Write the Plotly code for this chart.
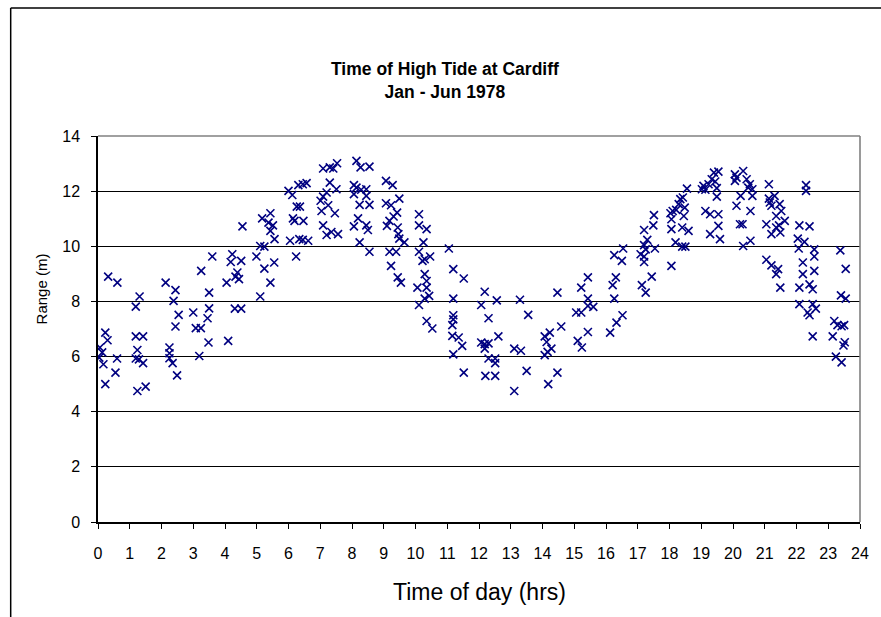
import plotly.graph_objects as go

# Time of high tide (hours of day) and tidal range (m), Cardiff, Jan - Jun 1978
hours = [
    0.32, 0.61, 0.23, 0.30, 0.06, 0.13, 0.17, 0.04, 0.60, 0.55, 0.23, 1.19, 1.31, 1.19, 1.42, 1.24,
    1.19, 1.29, 1.42, 1.24, 1.50, 2.13, 2.44, 2.38, 2.54, 2.44, 2.25, 2.25, 2.25, 2.35, 2.49, 3.00,
    3.08, 3.24, 3.25, 3.60, 3.50, 3.50, 3.45, 3.48, 3.19,
    4.23, 4.18, 4.51, 4.39, 4.33, 4.44, 4.05, 4.31, 4.51, 4.10, 4.55, 5.11, 4.99, 5.11, 5.24, 5.24,
    5.55, 5.43, 5.17, 5.43, 5.37, 5.51, 5.43, 5.56, 6.24, 6.05, 6.34, 6.45, 6.62, 6.14, 6.19, 6.47,
    6.26, 6.36, 6.00, 6.12, 6.31, 6.45, 6.57, 7.09, 7.30, 7.41, 7.53, 7.30, 7.20, 7.09, 7.01, 7.51,
    7.25, 7.04, 7.46, 7.09, 7.20, 7.35, 7.56,
    8.14, 8.27, 8.55, 8.06, 8.14, 8.29, 8.45, 8.06, 8.45, 8.24, 8.55, 8.19, 8.06, 8.45, 8.50, 8.24,
    8.55, 9.07, 9.28, 9.49, 9.07, 9.23, 9.42, 9.31, 9.18, 9.10, 9.44, 9.46, 9.49, 9.65, 9.18, 9.39,
    9.23, 9.44, 9.54, 10.11, 10.11, 10.35, 10.25, 10.11, 10.22, 10.29, 10.46, 10.29, 10.35, 10.35,
    10.06, 10.43, 10.29, 10.11, 10.35, 10.53, 11.05, 11.19, 11.52, 11.19, 11.19, 11.19, 11.16, 11.16,
    11.36, 11.47, 11.19, 11.52,
    12.18, 12.07, 12.56, 12.30, 12.07, 12.18, 12.30, 12.18, 12.61, 12.30, 12.51, 12.51, 12.20, 12.51,
    13.11, 13.29, 13.55, 13.11, 13.32, 13.50, 14.47, 14.59, 14.23, 14.07, 14.13, 14.28, 14.07, 14.16,
    14.47, 14.18, 15.22, 15.43, 15.06, 15.22, 15.43, 15.43, 15.11, 15.24, 15.43,
    15.60, 16.26, 16.54, 16.50, 16.31, 16.21, 16.26, 16.52, 16.33, 16.13, 17.20, 17.51, 17.49, 17.30,
    17.20, 17.09, 17.20, 17.20, 17.54, 17.25, 17.44, 17.13, 17.25, 18.06, 18.19, 18.40, 18.50, 18.40,
    18.60, 18.06, 18.06, 18.03, 18.10, 18.21, 18.45, 18.48, 18.29, 18.34, 18.42, 18.55, 19.07, 19.02,
    19.13, 19.23, 19.33, 19.40, 19.13, 19.28, 19.28,
    19.54, 19.44, 19.49, 19.49, 19.54, 19.54, 19.59, 20.06, 20.11, 20.32, 20.06, 20.43, 20.53, 20.48,
    20.61, 20.24, 20.61, 20.11, 20.55, 20.22, 20.30, 20.32, 20.55, 21.13, 21.13, 21.31, 21.16, 21.21,
    21.47, 21.36, 21.52, 21.63, 21.05, 21.45, 21.49, 21.21, 21.36, 21.05, 21.21, 21.42, 21.36, 21.49,
    22.30, 22.30, 22.09, 22.41, 22.04, 22.25, 22.07, 22.56, 22.56, 22.20, 22.20, 22.56, 22.09, 22.41,
    22.51, 22.09, 22.51, 22.61, 22.35, 22.41, 22.51, 23.14, 23.19,
    23.38, 23.55, 23.40, 23.55, 23.29, 23.42, 23.50, 23.52, 23.48, 23.24, 23.42,
]
range_m = [
    8.90, 8.68, 6.87, 6.59, 6.33, 6.15, 5.72, 5.96, 5.93, 5.42, 5.00, 7.81, 8.18, 6.73, 6.73, 6.24,
    5.93, 5.90, 5.76, 4.75, 4.91, 8.68, 8.41, 8.02, 7.51, 7.09, 6.33, 6.12, 5.94, 5.76, 5.32, 7.60,
    7.03, 7.03, 9.11, 9.63, 8.32, 7.75, 7.39, 6.51, 6.02,
    9.71, 9.43, 9.47, 9.05, 8.90, 8.81, 8.68, 7.74, 7.74, 6.57, 10.72, 8.18, 9.63, 10.01, 9.99, 9.19,
    9.41, 8.68, 11.01, 11.20, 10.86, 10.76, 10.56, 10.26, 9.63, 10.20, 10.26, 10.23, 10.20, 11.01, 10.92, 10.92,
    11.44, 11.44, 12.01, 11.86, 12.22, 12.25, 12.29, 12.82, 12.86, 12.82, 13.01, 12.31, 11.95, 11.80, 11.65, 12.07,
    11.49, 11.28, 11.20, 10.76, 10.41, 10.52, 10.44,
    13.10, 12.86, 12.89, 12.22, 12.13, 12.05, 12.07, 11.89, 11.83, 11.50, 11.50, 11.01, 10.72, 10.76, 10.59, 10.14,
    9.80, 12.37, 12.22, 11.73, 11.56, 11.49, 11.22, 11.08, 10.92, 10.74, 10.68, 10.44, 10.28, 10.14, 9.80, 9.80,
    9.29, 8.87, 8.68, 11.16, 10.76, 10.62, 10.14, 9.80, 9.47, 9.53, 9.63, 8.99, 8.74, 8.50,
    8.50, 8.20, 8.10, 7.87, 7.29, 7.02, 9.92, 9.17, 8.83, 8.10, 7.50, 7.35, 7.14, 6.75,
    6.69, 6.39, 6.08, 5.42,
    8.35, 7.87, 8.04, 7.39, 6.51, 6.45, 6.48, 6.29, 6.73, 5.93, 5.93, 5.76, 5.30, 5.30,
    4.75, 8.06, 7.51, 6.29, 6.21, 5.48, 8.32, 7.09, 6.87, 6.73, 6.53, 6.29, 6.05, 6.17,
    5.42, 5.00, 8.50, 8.87, 7.60, 7.60, 8.10, 7.84, 6.57, 6.33, 6.89,
    7.80, 9.68, 9.92, 9.47, 8.87, 8.59, 8.10, 7.50, 7.23, 6.87, 10.59, 11.13, 10.76, 10.23,
    10.04, 9.71, 9.63, 9.43, 9.92, 9.89, 8.90, 8.59, 8.32, 9.29, 10.14, 9.99, 9.99, 10.68,
    10.56, 10.62, 10.98, 11.20, 11.28, 11.32, 11.10, 11.40, 11.53, 11.71, 11.77, 12.09, 12.19, 12.07,
    12.05, 12.25, 12.43, 12.67, 11.28, 11.16, 10.44,
    12.71, 12.35, 12.11, 11.80, 11.16, 10.74, 10.26, 12.61, 12.49, 12.73, 12.37, 12.43, 12.25, 12.13,
    12.07, 11.83, 11.83, 11.47, 11.28, 10.80, 10.80, 10.01, 10.20, 12.25, 11.73, 11.83, 11.59, 11.47,
    11.53, 11.10, 11.28, 10.92, 10.80, 10.76, 10.50, 10.44, 10.68, 9.51, 9.31, 9.17, 8.99, 8.50,
    12.22, 12.01, 10.76, 10.72, 10.28, 10.16, 9.92, 9.89, 9.63, 9.41, 8.99, 9.11, 8.50, 8.62,
    8.44, 7.90, 7.90, 7.74, 7.60, 7.50, 6.73, 6.73, 7.29,
    9.85, 9.18, 8.22, 8.10, 7.14, 7.10, 7.14, 6.52, 6.40, 6.00, 5.79,
]

x_ticks = list(range(0, 25))
y_ticks = list(range(0, 15, 2))

FONT = "Liberation Sans, Arial, sans-serif"
NAVY = "#000080"

# plot area in pixels: x 98..866, y 136..522
PX0, PX1, PY0, PY1 = 98, 866, 136, 522


def px_x(p):
    return (p - PX0) / (PX1 - PX0)


def px_y(p):
    return (PY1 - p) / (PY1 - PY0)


fig = go.Figure()
fig.add_trace(go.Scatter(
    x=hours, y=range_m, mode="markers",
    marker=dict(symbol="x-thin", size=8, color=NAVY,
                line=dict(width=1.6, color=NAVY)),
    hoverinfo="x+y", showlegend=False,
))

fig.update_layout(
    width=881, height=617,
    margin=dict(l=PX0, r=881 - PX1, t=PY0, b=617 - PY1),
    paper_bgcolor="white", plot_bgcolor="white",
    font=dict(family=FONT, color="black", size=16),
    xaxis=dict(range=[0, 24], tickvals=x_ticks, ticktext=[str(v) for v in x_ticks],
               showgrid=False, zeroline=False,
               showline=True, linecolor="black", linewidth=1.5,
               ticks="outside", ticklen=5, tickwidth=1.3, tickcolor="black",
               ticklabelstandoff=11, tickfont=dict(size=16)),
    yaxis=dict(range=[0, 14], tickvals=y_ticks, ticktext=[str(v) for v in y_ticks],
               showgrid=True, gridcolor="black", gridwidth=1.2, zeroline=False,
               showline=True, linecolor="black", linewidth=1.5,
               ticks="outside", ticklen=5, tickwidth=1.3, tickcolor="black",
               ticklabelstandoff=8, tickfont=dict(size=16)),
    annotations=[
        dict(text="<b>Time of High Tide at Cardiff<br>Jan - Jun 1978</b>",
             xref="paper", yref="paper", x=px_x(448), y=px_y(81),
             xanchor="center", yanchor="middle", showarrow=False,
             font=dict(size=17.5)),
        dict(text="Time of day (hrs)", xref="paper", yref="paper",
             x=0.5, y=px_y(592), xanchor="center", yanchor="middle",
             showarrow=False, font=dict(size=23)),
        dict(text="Range (m)", xref="paper", yref="paper",
             x=px_x(41), y=px_y(289), xanchor="center", yanchor="middle",
             textangle=-90, showarrow=False, font=dict(size=15)),
    ],
    shapes=[
        # grey plot-area border (top and right)
        dict(type="line", xref="paper", yref="paper", x0=0, y0=1, x1=1, y1=1,
             line=dict(color="#808080", width=1.6), layer="above"),
        dict(type="line", xref="paper", yref="paper", x0=1, y0=0, x1=1, y1=1,
             line=dict(color="#808080", width=1.6), layer="above"),
        # chart-area frame (left and top edges visible)
        dict(type="line", xref="paper", yref="paper",
             x0=px_x(10), y0=px_y(8), x1=px_x(900), y1=px_y(8),
             line=dict(color="black", width=1.5)),
        dict(type="line", xref="paper", yref="paper",
             x0=px_x(10), y0=px_y(8), x1=px_x(10), y1=px_y(640),
             line=dict(color="black", width=1.5)),
    ],
)

fig.write_html("out.html", config={"displayModeBar": False},
               post_script="document.body.style.margin='0px';")
